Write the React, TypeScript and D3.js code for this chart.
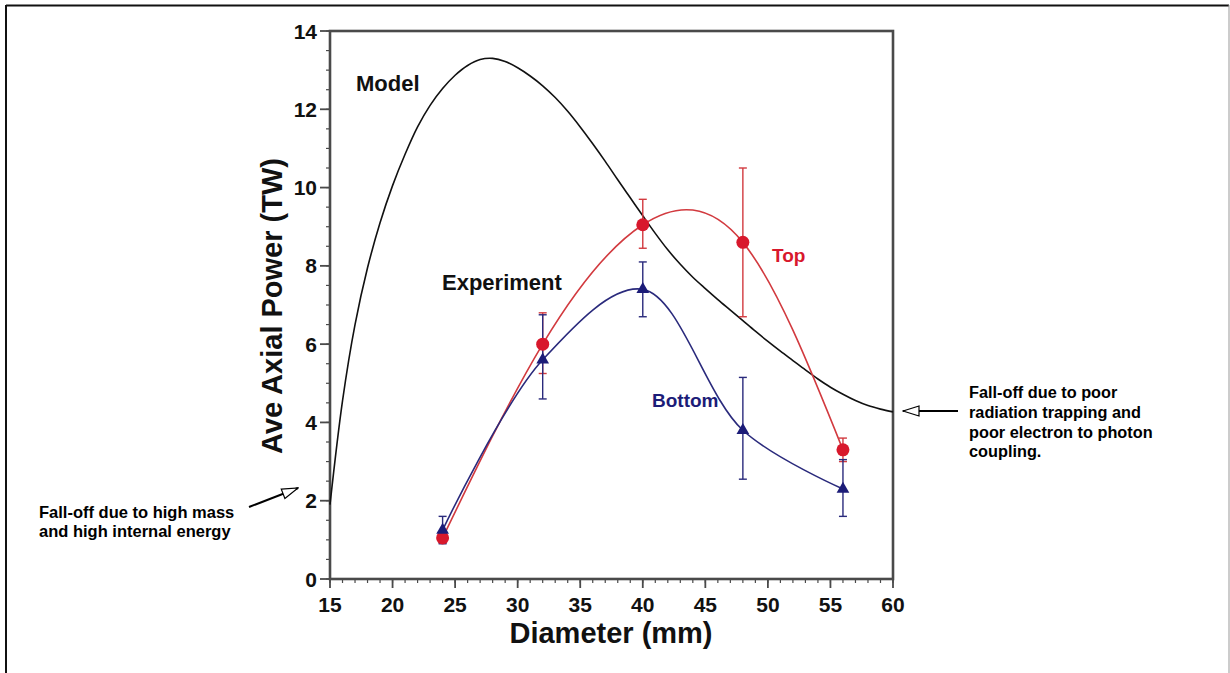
import React from "react";
import * as d3 from "d3";

// Model prediction (diameter mm -> average axial power TW)
const modelX = [15, 16, 17, 18, 19, 20, 21, 22, 23, 24, 25, 26, 27, 28, 29, 30, 31, 32, 33, 34, 35, 36, 37, 38, 39, 40, 41, 42, 43, 44, 45, 46, 47, 48, 49, 50, 51, 52, 53, 54, 55, 56, 57, 58, 59, 60];
const modelY = [1.9, 4.55, 6.5, 7.95, 9.1, 10.05, 10.85, 11.55, 12.1, 12.53, 12.87, 13.12, 13.27, 13.3, 13.22, 13.06, 12.85, 12.6, 12.3, 11.95, 11.55, 11.12, 10.67, 10.2, 9.74, 9.28, 8.83, 8.41, 8.04, 7.71, 7.42, 7.14, 6.87, 6.6, 6.33, 6.07, 5.82, 5.58, 5.34, 5.11, 4.9, 4.72, 4.56, 4.43, 4.34, 4.27];

// Experiment: measured diameters
const diameters = [24, 32, 40, 48, 56];

// Top detector
const topValues = [1.05, 6.0, 9.05, 8.6, 3.3];
const topLow = [0.92, 5.25, 8.45, 6.7, 3.0];
const topHigh = [1.18, 6.8, 9.7, 10.5, 3.6];

// Bottom detector
const bottomValues = [1.25, 5.6, 7.4, 3.8, 2.3];
const bottomLow = [0.9, 4.6, 6.7, 2.55, 1.6];
const bottomHigh = [1.6, 6.75, 8.1, 5.15, 3.05];

const xTicks = [15, 20, 25, 30, 35, 40, 45, 50, 55, 60];
const yTicks = [0, 2, 4, 6, 8, 10, 12, 14];

const W = 1230;
const H = 673;
const FONT = "'Liberation Sans', Arial, Helvetica, sans-serif";

const RED = "#d8182c";
const RED_LINE = "#d23a3f";
const BLUE = "#1c1c78";
const BLUE_LINE = "#2a2a7c";
const AXIS = "#4a4a4a";

export default function App() {
  const x = d3.scaleLinear().domain([15, 60]).range([330, 893]);
  const y = d3.scaleLinear().domain([0, 14]).range([579, 31]);

  const modelLine = d3
    .line<number>()
    .x((_, i) => x(modelX[i]))
    .y((d) => y(d))
    .curve(d3.curveCatmullRom.alpha(0.5))(modelY) as string;

  const topLine = d3
    .line<number>()
    .x((_, i) => x(diameters[i]))
    .y((d) => y(d))
    .curve(d3.curveNatural)(topValues) as string;

  const bottomLine = d3
    .line<number>()
    .x((_, i) => x(diameters[i]))
    .y((d) => y(d))
    .curve(d3.curveCatmullRom.alpha(0.5))(bottomValues) as string;

  const minorX = d3.range(15, 61, 1);
  const minorY = d3.range(0, 14.01, 0.5);

  const tri = d3.symbol().type(d3.symbolTriangle).size(70)() as string;

  const errorBars = (
    lows: number[],
    highs: number[],
    color: string,
    key: string
  ) =>
    diameters.map((dv, i) => {
      const cx = x(dv);
      const y1 = y(lows[i]);
      const y2 = y(highs[i]);
      return (
        <g key={`${key}-${i}`} stroke={color} strokeWidth={1.4}>
          <line x1={cx} x2={cx} y1={y1} y2={y2} />
          <line x1={cx - 4} x2={cx + 4} y1={y1} y2={y1} />
          <line x1={cx - 4} x2={cx + 4} y1={y2} y2={y2} />
        </g>
      );
    });

  return (
    <svg
      width={W}
      height={H}
      style={{ position: "absolute", left: 0, top: 0, background: "#fff" }}
      fontFamily={FONT}
      fontWeight="bold"
    >
      <defs>
        <marker
          id="openHead"
          viewBox="0 0 18 12"
          refX={17}
          refY={6}
          markerWidth={18}
          markerHeight={12}
          markerUnits="userSpaceOnUse"
          orient="auto"
        >
          <path d="M1,1 L17,6 L1,11 Z" fill="#fff" stroke="#000" strokeWidth={1.2} />
        </marker>
      </defs>

      {/* page frame */}
      <line x1={6} x2={1229} y1={5.5} y2={5.5} stroke="#111" strokeWidth={2} />
      <line x1={6} x2={6} y1={5} y2={H} stroke="#111" strokeWidth={2} />
      <line x1={1229} x2={1229} y1={5} y2={H} stroke="#999" strokeWidth={1} />

      {/* minor ticks */}
      {minorX.map((v) => (
        <line key={`mx${v}`} x1={x(v)} x2={x(v)} y1={579} y2={583} stroke={AXIS} strokeWidth={1.2} />
      ))}
      {minorY.map((v) => (
        <line key={`my${v}`} x1={326} x2={330} y1={y(v)} y2={y(v)} stroke={AXIS} strokeWidth={1.2} />
      ))}
      {/* major ticks */}
      {xTicks.map((v) => (
        <line key={`tx${v}`} x1={x(v)} x2={x(v)} y1={579} y2={588} stroke={AXIS} strokeWidth={1.8} />
      ))}
      {yTicks.map((v) => (
        <line key={`ty${v}`} x1={320} x2={330} y1={y(v)} y2={y(v)} stroke={AXIS} strokeWidth={1.8} />
      ))}

      {/* plot frame */}
      <rect x={330} y={31} width={563} height={548} fill="none" stroke={AXIS} strokeWidth={2.6} />

      {/* tick labels */}
      {xTicks.map((v) => (
        <text key={`lx${v}`} x={x(v)} y={612} textAnchor="middle" fontSize={21} fill="#111">
          {v}
        </text>
      ))}
      {yTicks.map((v) => (
        <text key={`ly${v}`} x={317} y={y(v)} dy="0.36em" textAnchor="end" fontSize={21} fill="#111">
          {v}
        </text>
      ))}

      {/* axis titles */}
      <text x={611} y={643} textAnchor="middle" fontSize={29} fill="#111">
        Diameter (mm)
      </text>
      <text
        transform={`translate(282, 306) rotate(-90)`}
        textAnchor="middle"
        fontSize={29}
        fill="#111"
      >
        Ave Axial Power (TW)
      </text>

      {/* model curve */}
      <path d={modelLine} fill="none" stroke="#111" strokeWidth={1.6} />

      {/* experiment curves */}
      <path d={topLine} fill="none" stroke={RED_LINE} strokeWidth={1.6} />
      <path d={bottomLine} fill="none" stroke={BLUE_LINE} strokeWidth={1.6} />

      {errorBars(topLow, topHigh, RED_LINE, "te")}
      {errorBars(bottomLow, bottomHigh, BLUE_LINE, "be")}

      {diameters.map((dv, i) => (
        <circle key={`tp${i}`} cx={x(dv)} cy={y(topValues[i])} r={6.5} fill={RED} />
      ))}
      {diameters.map((dv, i) => (
        <path
          key={`bp${i}`}
          d={tri}
          transform={`translate(${x(dv)}, ${y(bottomValues[i])})`}
          fill={BLUE}
        />
      ))}

      {/* curve labels */}
      <text x={356} y={91} fontSize={22} fill="#111">Model</text>
      <text x={442} y={290} fontSize={22} fill="#111">Experiment</text>
      <text x={772} y={262} fontSize={19} fill={RED}>Top</text>
      <text x={652} y={407} fontSize={19} fill={BLUE}>Bottom</text>

      {/* annotations */}
      <line x1={249} y1={507} x2={298} y2={488} stroke="#000" strokeWidth={2} markerEnd="url(#openHead)" />
      <text fontSize={16.5} fill="#000">
        <tspan x={39} y={518}>Fall-off due to high mass</tspan>
        <tspan x={39} y={537}>and high internal energy</tspan>
      </text>

      <line x1={958} y1={411} x2={903} y2={411} stroke="#000" strokeWidth={2} markerEnd="url(#openHead)" />
      <text fontSize={16.3} fill="#000">
        <tspan x={969} y={398}>Fall-off due to poor</tspan>
        <tspan x={969} y={418}>radiation trapping and</tspan>
        <tspan x={969} y={438}>poor electron to photon</tspan>
        <tspan x={969} y={457}>coupling.</tspan>
      </text>
    </svg>
  );
}
